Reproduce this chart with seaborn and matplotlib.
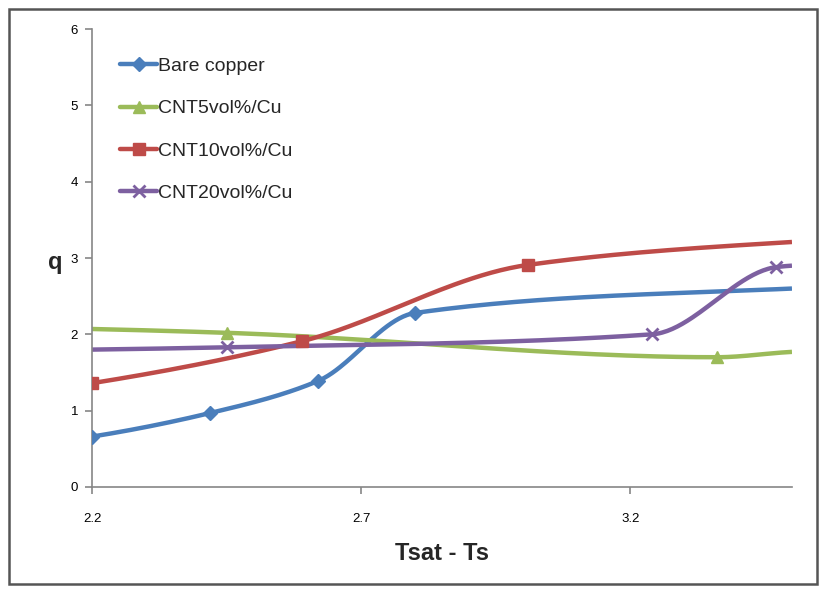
import numpy as np
import pandas as pd
import matplotlib
matplotlib.use("Agg")
import matplotlib.pyplot as plt
import seaborn as sns

# ---- data ----
bare_x = [2.20, 2.42, 2.62, 2.80, 3.50]
bare_y = [0.66, 0.97, 1.39, 2.28, 2.60]
cnt5_x = [2.20, 2.45, 3.36, 3.50]
cnt5_y = [2.07, 2.02, 1.70, 1.77]
cnt10_x = [2.20, 2.59, 3.01, 3.50]
cnt10_y = [1.36, 1.91, 2.91, 3.21]
cnt20_x = [2.20, 2.45, 3.24, 3.47, 3.50]
cnt20_y = [1.80, 1.83, 2.00, 2.88, 2.90]

series_names = ["Bare copper", "CNT5vol%/Cu", "CNT10vol%/Cu", "CNT20vol%/Cu"]
x_ticks = [2.2, 2.7, 3.2]
y_ticks = [0, 1, 2, 3, 4, 5, 6]

colors = ["#4A7EBB", "#9BBB59", "#BE4B48", "#7D60A0"]
markers = ["D", "^", "s", "x"]
marker_masks = [
    [True, True, True, True, False],
    [False, True, True, False],
    [True, True, True, False],
    [False, True, True, True, False],
]


def curve_slopes(x, y):
    h = np.diff(x)
    d = np.diff(y) / h
    m = len(x)
    s = np.zeros(m)
    for k in range(1, m - 1):
        if d[k - 1] * d[k] <= 0:
            s[k] = 0.0
        else:
            w1 = 2 * h[k] + h[k - 1]
            w2 = h[k] + 2 * h[k - 1]
            s[k] = (w1 + w2) / (w1 / d[k - 1] + w2 / d[k])
    s[0] = 0.8 * d[0]
    s[-1] = 0.7 * d[-1]
    return s


def smooth(xs, ys, n=50):
    """Smooth shape-preserving cubic curve through the data points."""
    x = np.asarray(xs, float)
    y = np.asarray(ys, float)
    s = curve_slopes(x, y)
    ox, oy = [], []
    for i in range(len(x) - 1):
        h = x[i + 1] - x[i]
        t = np.linspace(0, 1, n)
        h00 = 2 * t ** 3 - 3 * t ** 2 + 1
        h10 = t ** 3 - 2 * t ** 2 + t
        h01 = -2 * t ** 3 + 3 * t ** 2
        h11 = t ** 3 - t ** 2
        yy = h00 * y[i] + h10 * h * s[i] + h01 * y[i + 1] + h11 * h * s[i + 1]
        xx = x[i] + t * h
        if i > 0:
            xx, yy = xx[1:], yy[1:]
        ox.append(xx)
        oy.append(yy)
    return np.concatenate(ox), np.concatenate(oy)


sns.set_theme(style="white")
plt.rcParams["font.family"] = ["Liberation Sans", "DejaVu Sans"]

fig = plt.figure(figsize=(8.26, 5.93), dpi=100)
ax = fig.add_axes([0.1114, 0.1788, 0.8474, 0.7722])

all_x = [bare_x, cnt5_x, cnt10_x, cnt20_x]
all_y = [bare_y, cnt5_y, cnt10_y, cnt20_y]

for name, xs, ys, c, mk, mask in zip(series_names, all_x, all_y, colors, markers, marker_masks):
    sx, sy = smooth(xs, ys)
    df = pd.DataFrame({"x": sx, "y": sy})
    sns.lineplot(data=df, x="x", y="y", ax=ax, color=c, lw=3.2, sort=False,
                 estimator=None, solid_capstyle="butt")
    mx = [x for x, k in zip(xs, mask) if k]
    my = [y for y, k in zip(ys, mask) if k]
    ms = {"D": 7, "^": 8.5, "s": 8.5, "x": 8.5}[mk]
    mew = 1 if mk != "x" else 2.0
    ax.plot(mx, my, linestyle="none", marker=mk, color=c, ms=ms, mew=mew, zorder=4)
    ax.plot([], [], color=c, lw=3.2, marker=mk, ms=ms, mew=mew, label=name)

ax.set_xlim(2.2, 3.5)
ax.set_ylim(0, 6)
ax.set_xticks(x_ticks)
ax.set_xticklabels([str(v) for v in x_ticks])
ax.set_yticks(y_ticks)
ax.set_yticklabels([str(v) for v in y_ticks])

for s in ["top", "right"]:
    ax.spines[s].set_visible(False)
for s in ["left", "bottom"]:
    ax.spines[s].set_color("#868686")
    ax.spines[s].set_linewidth(1.2)
ax.tick_params(axis="both", direction="out", length=5, width=1.2, color="#868686",
               labelsize=9.5, labelcolor="black", bottom=True, left=True)
ax.tick_params(axis="y", pad=5)
ax.tick_params(axis="x", pad=14)

ax.set_xlabel("Tsat - Ts", fontsize=17, fontweight="bold", labelpad=12)
ax.set_ylabel("q", fontsize=17, fontweight="bold", rotation=0, va="center")
ax.yaxis.set_label_coords(-0.052, 0.49)

leg = ax.legend(loc="upper left", bbox_to_anchor=(0.029, 0.955), frameon=False,
                fontsize=14, handlelength=1.9, handletextpad=0.05, labelspacing=1.27,
                borderaxespad=0)

fig.patches.append(plt.Rectangle((0.011, 0.016), 0.978, 0.968, transform=fig.transFigure,
                                 fill=False, edgecolor="#555555", lw=1.8))

fig.savefig("out.png", dpi=100)
